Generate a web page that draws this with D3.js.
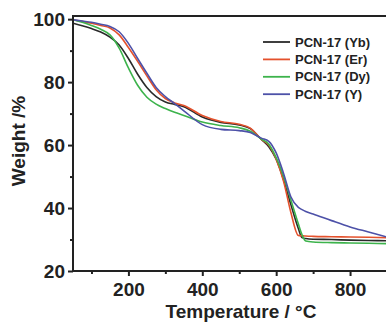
<!DOCTYPE html>
<html>
<head>
<meta charset="utf-8">
<script src="https://cdn.jsdelivr.net/npm/d3@7"></script>
<style>
  body { margin: 0; background: #fff; }
  svg { display: block; font-family: "Liberation Sans", Arial, sans-serif; font-weight: bold; }
</style>
</head>
<body>
<div id="chart"></div>
<script>
// Temperature grid (°C) shared by all curves
const temps = [50, 75, 100, 125, 150, 175, 200, 225, 250, 275, 300, 325, 350, 400, 450, 500, 530, 560, 580, 600, 620, 640, 660, 670, 680, 700, 750, 800, 850, 900];

// Weight %
const weightYb = [98.7, 97.9, 97.0, 95.9, 94.3, 91.8, 87.5, 82.5, 78.3, 75.4, 73.7, 72.9, 72.2, 68.9, 67.2, 66.4, 65.2, 61.8, 59.5, 55.5, 49.0, 41.0, 33.5, 30.6, 30.3, 30.1, 30.0, 29.8, 29.7, 29.6];
const weightEr = [99.8, 99.3, 98.7, 98.0, 97.2, 95.0, 91.0, 86.6, 82.0, 77.6, 74.8, 73.4, 72.6, 69.4, 67.5, 66.6, 65.4, 61.8, 60.0, 55.5, 48.5, 38.5, 31.3, 31.2, 31.1, 31.0, 30.9, 30.8, 30.7, 30.6];
const weightDy = [99.8, 99.0, 98.0, 96.8, 95.0, 90.8, 84.5, 79.0, 75.2, 73.0, 71.6, 70.4, 69.4, 67.3, 66.2, 65.5, 64.4, 61.9, 60.3, 56.0, 50.0, 42.5, 35.0, 31.5, 29.5, 29.2, 29.0, 28.9, 28.8, 28.7];
const weightY = [99.8, 99.4, 99.0, 98.4, 97.7, 96.0, 92.3, 87.5, 82.8, 78.3, 75.4, 73.2, 70.9, 66.5, 65.0, 64.6, 64.0, 62.2, 61.2, 57.5, 51.0, 43.5, 40.2, 39.5, 38.9, 38.1, 36.0, 34.0, 32.4, 30.8];

const seriesNames = ["PCN-17 (Yb)", "PCN-17 (Er)", "PCN-17 (Dy)", "PCN-17 (Y)"];
const seriesColors = ["#2a2a2a", "#e4512c", "#3db34c", "#4d51a8"];

const xTicks = [200, 400, 600, 800];
const yTicks = [20, 40, 60, 80, 100];

const series = [weightYb, weightEr, weightDy, weightY].map((w, i) => ({
  name: seriesNames[i],
  color: seriesColors[i],
  values: temps.map((t, j) => ({ t, w: w[j] })),
}));

// Canvas and plot box
const W = 386, H = 322;
const plotLeft = 73, plotTop = 16, plotRight = 387, plotBottom = 271;

const svg = d3.select("#chart").append("svg").attr("width", W).attr("height", H);

const x = d3.scaleLinear().domain([50, 900]).range([plotLeft, plotRight]);
const y = d3.scaleLinear().domain([20, 101]).range([plotBottom, plotTop]);

svg.append("clipPath").attr("id", "plot")
  .append("rect").attr("x", plotLeft).attr("y", plotTop)
  .attr("width", plotRight - plotLeft).attr("height", plotBottom - plotTop);

// Curves
const line = d3.line().x((d) => x(d.t)).y((d) => y(d.w)).curve(d3.curveMonotoneX);
svg.append("g").attr("clip-path", "url(#plot)")
  .selectAll("path").data(series).join("path")
  .attr("fill", "none")
  .attr("stroke", (d) => d.color)
  .attr("stroke-width", 1.6)
  .attr("d", (d) => line(d.values));

// Frame
svg.append("rect")
  .attr("x", plotLeft).attr("y", plotTop)
  .attr("width", plotRight - plotLeft).attr("height", plotBottom - plotTop)
  .attr("fill", "none").attr("stroke", "#222").attr("stroke-width", 2);

// Minor ticks
const minorX = [100, 300, 500, 700];
const minorY = [30, 50, 70, 90];
svg.append("g").attr("transform", `translate(0,${plotBottom})`)
  .call(d3.axisBottom(x).tickValues(minorX).tickSize(3).tickFormat(""))
  .call((g) => g.select(".domain").remove())
  .call((g) => g.selectAll("line").attr("stroke", "#222").attr("stroke-width", 2));
svg.append("g").attr("transform", `translate(${plotLeft},0)`)
  .call(d3.axisLeft(y).tickValues(minorY).tickSize(3).tickFormat(""))
  .call((g) => g.select(".domain").remove())
  .call((g) => g.selectAll("line").attr("stroke", "#222").attr("stroke-width", 2));

// Major axes
svg.append("g").attr("transform", `translate(0,${plotBottom})`)
  .call(d3.axisBottom(x).tickValues(xTicks).tickSize(5).tickPadding(7))
  .call((g) => g.select(".domain").remove())
  .call((g) => g.selectAll("line").attr("stroke", "#222").attr("stroke-width", 2))
  .call((g) => g.selectAll("text").attr("fill", "#222").style("font-size", "19px").style("font-family", "inherit"));
svg.append("g").attr("transform", `translate(${plotLeft},0)`)
  .call(d3.axisLeft(y).tickValues(yTicks).tickSize(5).tickPadding(3))
  .call((g) => g.select(".domain").remove())
  .call((g) => g.selectAll("line").attr("stroke", "#222").attr("stroke-width", 2))
  .call((g) => g.selectAll("text").attr("fill", "#222").style("font-size", "19px").style("font-family", "inherit"));

// Axis titles
svg.append("text")
  .attr("x", 241).attr("y", 318)
  .attr("text-anchor", "middle").attr("fill", "#222")
  .style("font-size", "19px")
  .text("Temperature / °C");
svg.append("text")
  .attr("transform", "translate(25,141) rotate(-90)")
  .attr("text-anchor", "middle").attr("fill", "#222")
  .style("font-size", "19px")
  .text("Weight /%");

// Legend
const legend = svg.append("g").selectAll("g").data(series).join("g")
  .attr("transform", (d, i) => `translate(263,${42 + i * 17.4})`);
legend.append("line")
  .attr("x1", 0).attr("x2", 27)
  .attr("stroke", (d) => d.color).attr("stroke-width", 1.8);
legend.append("text")
  .attr("x", 32).attr("dy", "0.36em")
  .attr("fill", "#222").style("font-size", "13px")
  .text((d) => d.name);
</script>
</body>
</html>
